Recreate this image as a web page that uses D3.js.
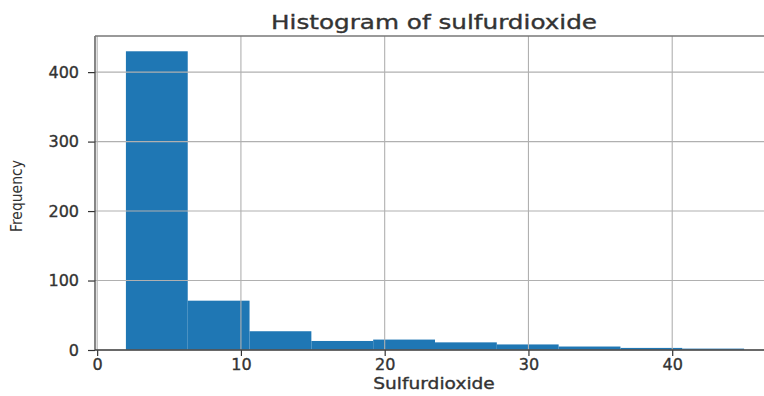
<!DOCTYPE html>
<html>
<head>
<meta charset="utf-8">
<script src="https://cdn.jsdelivr.net/npm/d3@7"></script>
<style>
  html, body { margin: 0; padding: 0; background: #fff; }
  svg { display: block; font-family: "DejaVu Sans", sans-serif; }
</style>
</head>
<body>
<svg id="chart" width="764" height="396"></svg>
<script>
  // bin edges and counts
  const binEdges = [2, 6.3, 10.6, 14.9, 19.2, 23.5, 27.8, 32.1, 36.4, 40.7, 45];
  const counts = [430, 71, 27, 13, 15, 11, 8, 5, 3, 2];
  const xTicks = [0, 10, 20, 30, 40];
  const yTicks = [0, 100, 200, 300, 400];

  const W = 764, H = 396;
  const margin = { left: 95, top: 36, right: -11, bottom: 46 };
  const svg = d3.select("#chart");

  const x = d3.scaleLinear().domain([-0.15, 47.15]).range([margin.left, W - margin.right]);
  const y = d3.scaleLinear().domain([0, 452]).range([H - margin.bottom, margin.top]);

  const bins = counts.map((c, i) => ({ x0: binEdges[i], x1: binEdges[i + 1], n: c }));

  svg.append("g")
    .selectAll("rect")
    .data(bins)
    .enter()
    .append("rect")
    .attr("x", (d) => x(d.x0))
    .attr("width", (d) => x(d.x1) - x(d.x0))
    .attr("y", (d) => y(d.n))
    .attr("height", (d) => y(0) - y(d.n))
    .attr("fill", "#1f77b4");

  // grid sits above the bars, like matplotlib
  const grid = svg.append("g").attr("stroke", "#b0b0b0").attr("stroke-width", 1.1);
  xTicks.forEach((t) => {
    grid.append("line")
      .attr("x1", x(t)).attr("x2", x(t))
      .attr("y1", margin.top).attr("y2", H - margin.bottom);
  });
  yTicks.forEach((t) => {
    grid.append("line")
      .attr("x1", margin.left).attr("x2", W)
      .attr("y1", y(t)).attr("y2", y(t));
  });

  const xAxis = svg.append("g")
    .attr("transform", `translate(0,${H - margin.bottom})`)
    .call(d3.axisBottom(x).tickValues(xTicks).tickSize(6).tickPadding(3).tickFormat(d3.format("d")));
  const yAxis = svg.append("g")
    .attr("transform", `translate(${margin.left},0)`)
    .call(d3.axisLeft(y).tickValues(yTicks).tickSize(7).tickPadding(9).tickFormat(d3.format("d")));

  [xAxis, yAxis].forEach((g) => {
    g.select(".domain").remove();
    g.selectAll(".tick line").attr("stroke", "#333").attr("stroke-width", 1.2);
    g.selectAll(".tick text")
      .attr("fill", "#333")
      .attr("stroke", "#333")
      .attr("stroke-width", 0.35)
      .style("font-size", "16px")
      .style("font-family", "'DejaVu Sans', sans-serif");
  });

  // frame
  const frame = svg.append("g").attr("stroke", "#444").attr("stroke-width", 1.3).attr("fill", "none");
  frame.append("line").attr("x1", margin.left).attr("x2", margin.left)
    .attr("y1", margin.top).attr("y2", H - margin.bottom);
  frame.append("line").attr("x1", margin.left).attr("x2", W)
    .attr("y1", H - margin.bottom).attr("y2", H - margin.bottom);
  frame.append("line").attr("x1", margin.left).attr("x2", W)
    .attr("y1", margin.top).attr("y2", margin.top).attr("stroke", "#777");

  svg.append("text")
    .attr("transform", "translate(434,29) scale(1.3,1)")
    .attr("text-anchor", "middle")
    .attr("fill", "#333")
    .attr("stroke", "#333")
    .attr("stroke-width", 0.35)
    .style("font-size", "19px")
    .text("Histogram of sulfurdioxide");

  svg.append("text")
    .attr("transform", "translate(434,389) scale(1.2,1)")
    .attr("text-anchor", "middle")
    .attr("fill", "#333")
    .attr("stroke", "#333")
    .attr("stroke-width", 0.35)
    .style("font-size", "15.5px")
    .text("Sulfurdioxide");

  svg.append("text")
    .attr("transform", "translate(22,196) rotate(-90) scale(0.94,1)")
    .attr("text-anchor", "middle")
    .attr("fill", "#333")
    .style("font-size", "16.5px")
    .style("font-family", "'DejaVu Sans Condensed', 'DejaVu Sans', sans-serif")
    .text("Frequency");
</script>
</body>
</html>
